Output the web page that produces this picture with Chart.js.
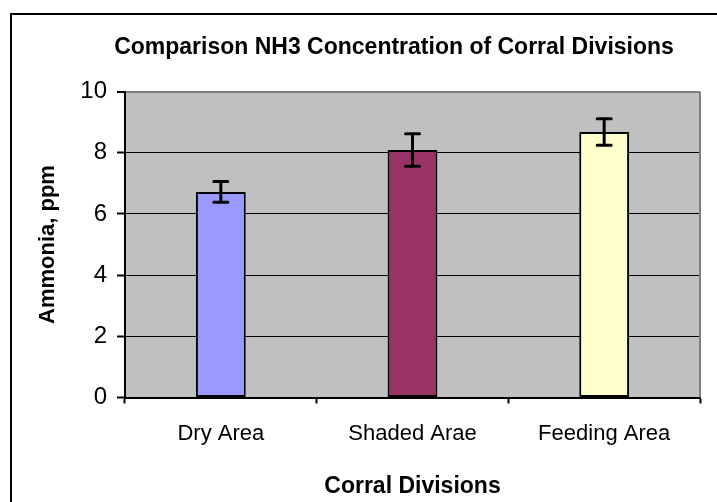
<!DOCTYPE html>
<html>
<head>
<meta charset="utf-8">
<title>Comparison NH3 Concentration of Corral Divisions</title>
<script src="https://cdn.jsdelivr.net/npm/chart.js@4/dist/chart.umd.min.js"></script>
<style>
  html, body { margin: 0; padding: 0; background: #fff; }
  #wrap { width: 717px; height: 502px; }
</style>
</head>
<body>
<div id="wrap"><canvas id="nh3Chart" width="717" height="502"></canvas></div>
<script>
// dati
const divisions = ["Dry Area", "Shaded Arae", "Feeding Area"];
const ammonia = [6.72, 8.09, 8.68];
const ammoniaErr = [0.34, 0.53, 0.43];
const barColors = ["#9999FF", "#993366", "#FFFFCC"];
const yTicks = [0, 2, 4, 6, 8, 10];

const FONT = "'Liberation Sans', Arial, sans-serif";

// sfondo grigio dell'area del grafico + cornice
const plotBg = {
  id: "plotBg",
  afterLayout(chart) {
    // il titolo nell'originale e' spostato un po' a destra
    if (chart.titleBlock) chart.titleBlock.left += 88;
  },
  beforeDraw(chart) {
    const { ctx, chartArea: a } = chart;
    ctx.save();
    ctx.fillStyle = "#C0C0C0";
    ctx.fillRect(a.left, a.top, a.right - a.left, a.bottom - a.top);
    ctx.restore();
  },
  afterDraw(chart) {
    const { ctx, chartArea: a } = chart;
    ctx.save();
    // bordo destro grigio dell'area
    ctx.strokeStyle = "#808080";
    ctx.lineWidth = 2;
    ctx.beginPath();
    ctx.moveTo(a.right, a.top);
    ctx.lineTo(a.right, a.bottom);
    ctx.stroke();
    // cornice esterna (solo lati alto e sinistro visibili)
    ctx.fillStyle = "#000";
    ctx.fillRect(10, 13, chart.width - 10, 2);
    ctx.fillRect(10, 13, 2, chart.height - 13);
    ctx.restore();
  }
};

// barre di errore
const errorBars = {
  id: "errorBars",
  afterDatasetsDraw(chart) {
    const { ctx, scales: { x, y } } = chart;
    ctx.save();
    ctx.strokeStyle = "#000";
    ctx.lineWidth = 3;
    ctx.lineCap = "round";
    ammonia.forEach((v, i) => {
      const px = x.getPixelForValue(i);
      const top = y.getPixelForValue(v + ammoniaErr[i]);
      const bot = y.getPixelForValue(v - ammoniaErr[i]);
      const cap = 7;
      ctx.beginPath();
      ctx.moveTo(px, top); ctx.lineTo(px, bot);
      ctx.moveTo(px - cap, top); ctx.lineTo(px + cap, top);
      ctx.moveTo(px - cap, bot); ctx.lineTo(px + cap, bot);
      ctx.stroke();
    });
    ctx.restore();
  }
};

new Chart(document.getElementById("nh3Chart"), {
  type: "bar",
  data: {
    labels: divisions,
    datasets: [{
      data: ammonia,
      backgroundColor: barColors,
      borderColor: "#000",
      borderWidth: 2,
      borderSkipped: false,
      barPercentage: 0.26,
      categoryPercentage: 1
    }]
  },
  options: {
    responsive: false,
    animation: false,
    layout: { padding: { left: 0, right: 17, top: 0, bottom: 0 } },
    plugins: {
      legend: { display: false },
      tooltip: { enabled: false },
      title: {
        display: true,
        text: "Comparison NH3 Concentration of Corral Divisions",
        color: "#000",
        font: { family: FONT, size: 23, weight: "bold" },
        padding: { top: 34, bottom: 30 }
      }
    },
    scales: {
      x: {
        afterFit(s) { s.height = 104.5; },
        grid: {
          offset: true,
          drawOnChartArea: false,
          drawTicks: true,
          tickLength: 6,
          tickColor: "#000",
          tickWidth: 2
        },
        border: { display: true, color: "#000", width: 2 },
        ticks: {
          color: "#000",
          padding: 17,
          font: { family: FONT, size: 22 }
        },
        title: {
          display: true,
          text: "Corral Divisions",
          color: "#000",
          font: { family: FONT, size: 23, weight: "bold" },
          padding: { top: 0, bottom: 2 }
        }
      },
      y: {
        min: 0,
        max: 10,
        afterFit(s) { s.width = 125; },
        afterBuildTicks(s) { s.ticks = yTicks.map(v => ({ value: v })); },
        grid: {
          color: c => (c.tick && c.tick.value === 10 ? "#808080" : "#000"),
          lineWidth: c => (c.tick && c.tick.value === 10 ? 2 : 1),
          drawTicks: true,
          tickLength: 8,
          tickColor: "#000",
          tickWidth: 2
        },
        border: { display: true, color: "#000", width: 2 },
        ticks: {
          color: "#000",
          padding: 10,
          font: { family: FONT, size: 24 }
        },
        title: {
          display: true,
          text: "Ammonia, ppm",
          color: "#000",
          font: { family: FONT, size: 22, weight: "bold" },
          padding: { top: 35, bottom: 0 }
        }
      }
    }
  },
  plugins: [plotBg, errorBars]
});
</script>
</body>
</html>
